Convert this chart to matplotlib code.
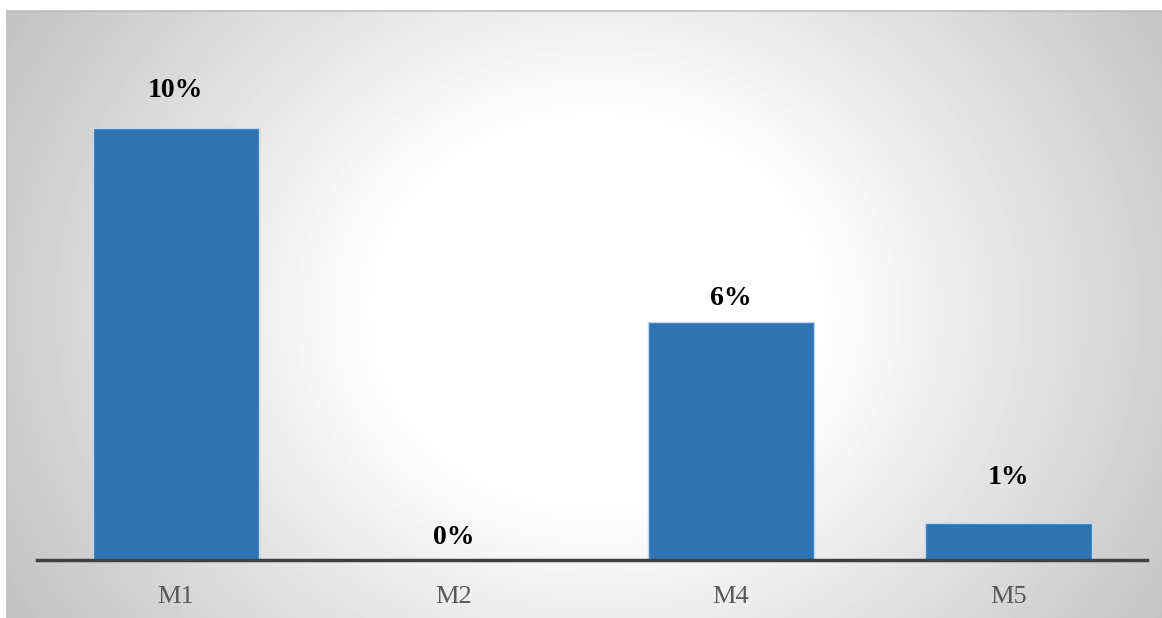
import numpy as np
import matplotlib
matplotlib.use("Agg")
import matplotlib.pyplot as plt

# Share of each model
models = ["M1", "M2", "M4", "M5"]
shares = [10.0, 0.0, 5.5, 0.85]
label_offsets = [18, 7, 8, 24]   # points above the bar top for each value label

W, H = 1162, 618
fig = plt.figure(figsize=(W / 100, H / 100), dpi=100)
fig.patch.set_facecolor("white")

# Radial gradient panel behind the chart
bg = fig.add_axes([7 / W, 0, 1 - 7 / W, 1 - 11 / H])
yy, xx = np.mgrid[0:607, 0:1155]
cx, cy = 590, 300
r = np.hypot(xx - cx, (yy - cy) * 1.15)
shade = 1.0 - 0.24 * np.clip((r - 220) / 460, 0, 1) ** 1.0
bg.imshow(shade, cmap="gray", vmin=0, vmax=1, aspect="auto", interpolation="bilinear")
bg.set_axis_off()
fig.add_artist(plt.Line2D([7 / W, 1], [1 - 11 / H] * 2, color="#BDBDBD", lw=1.2))
fig.add_artist(plt.Line2D([7 / W] * 2, [0, 1 - 11 / H], color="#BDBDBD", lw=1.2))

left = 37 / W
right = 1147 / W
bottom = 1 - 560 / H
top = 1 - 40 / H
ax = fig.add_axes([left, bottom, right - left, top - bottom])
ax.patch.set_alpha(0)

x = np.arange(len(models))
bars = ax.bar(x, shares, width=0.6, color="#2E74B5", edgecolor="#BDD7EE", linewidth=1.0, zorder=2)
ax.set_xlim(-0.5, len(models) - 0.5)
ax.set_ylim(0, 10.0 * 520 / 432)

for b, v, off in zip(bars, shares, label_offsets):
    ax.annotate(f"{v:.0f}%", (b.get_x() + b.get_width() / 2, v), xytext=(0, off),
                textcoords="offset points", ha="center", va="bottom",
                fontsize=20, fontweight="bold", family="Liberation Serif", color="black")

ax.set_xticks(x)
ax.set_xticklabels(models, fontsize=19, family="Liberation Serif", color="#595959")
ax.tick_params(axis="x", length=0, pad=19)
ax.set_yticks([])
for s in ["top", "right", "left"]:
    ax.spines[s].set_visible(False)
ax.spines["bottom"].set_color("#404040")
ax.spines["bottom"].set_linewidth(2.5)
ax.spines["bottom"].set_zorder(3)

fig.savefig("out.png", dpi=100)
